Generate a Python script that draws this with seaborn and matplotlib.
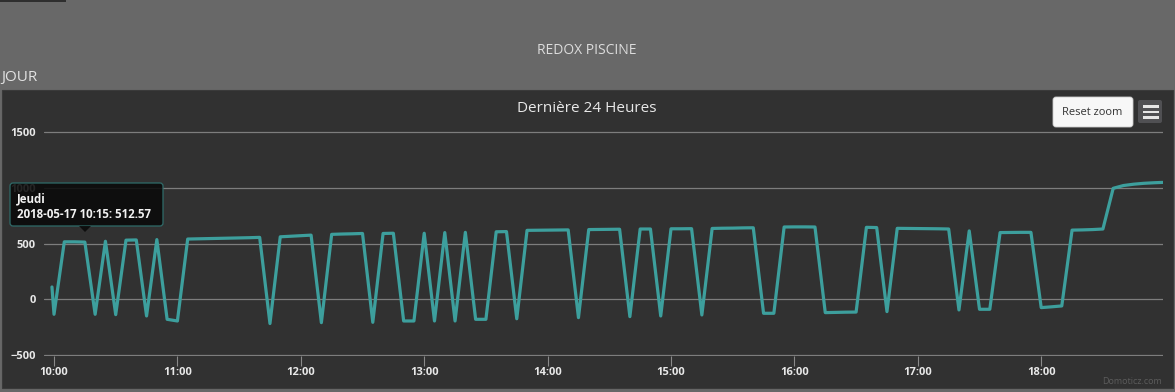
import numpy as np
import pandas as pd
import matplotlib
matplotlib.use("Agg")
import matplotlib.pyplot as plt
import matplotlib.dates as mdates
from matplotlib.patches import Rectangle, FancyBboxPatch, Polygon
from matplotlib.transforms import IdentityTransform
import seaborn as sns

# ---------------- data ----------------
first_time = "2018-05-17 09:59"
step_start = "2018-05-17 10:00"
last_time = "2018-05-17 18:59"
first_value = 110
redox = [
    -135, 515, 515, 512.57, -135, 520, -138, 530, 532, -150,
    535, -180, -195, 540, 542, 544, 546, 548, 550, 552,
    555, -218, 560, 565, 570, 575, -210, 582, 585, 587,
    590, -207, 590, 592, -195, -195, 592, -195, 598, -195,
    600, -180, -180, 605, 607, -175, 618, 619, 620, 621,
    622, -165, 625, 626, 627, 628, -156, 630, 630, -150,
    632, 632, 633, -141, 635, 637, 638, 640, 641, -126,
    -126, 648, 649, 649, 648, -120, -118, -116, -115, 645,
    643, -111, 636, 635, 634, 633, 632, 630, -96, 613,
    -90, -90, 598, 599, 600, 600, -75, -68, -60, 620,
    622, 625, 630, 995, 1020, 1032, 1040, 1045,
]
last_value = 1048
y_ticks = [-500, 0, 500, 1000, 1500]
x_tick_hours = [10, 11, 12, 13, 14, 15, 16, 17, 18]
page_title = "REDOX PISCINE"
section_label = "JOUR"
chart_title = "Dernière 24 Heures"
tooltip_day = "Jeudi"
tooltip_index = 3
reset_label = "Reset zoom"
credit_label = "Domoticz.com"

times = pd.DatetimeIndex([pd.Timestamp(first_time)]).append(
    pd.date_range(step_start, periods=len(redox), freq="5min")).append(
    pd.DatetimeIndex([pd.Timestamp(last_time)]))
values = [first_value] + redox + [last_value]
df = pd.DataFrame({"time": times, "redox": values})

# ---------------- style ----------------
sns.set_theme(style="dark")
plt.rcParams["font.family"] = ["Open Sans", "DejaVu Sans"]
plt.rcParams["hatch.linewidth"] = 1.3

W, H = 1175, 392
fig = plt.figure(figsize=(W / 100, H / 100), dpi=100)
fig.patch.set_facecolor("#707070")


def fx(x):
    return x / W


def fy(y):
    return 1 - y / H


# striped page background
bg = Rectangle((0, 0), 1, 1, transform=fig.transFigure, facecolor="#727272",
               edgecolor="#686868", hatch="\\" * 16, linewidth=0, zorder=-5)
fig.add_artist(bg)
# small dark tab at top-left
fig.add_artist(Rectangle((fx(0), fy(2)), fx(66), 2 / H, transform=fig.transFigure,
                         facecolor="#2e2e2e", linewidth=0, zorder=-4))
# dark chart panel
fig.add_artist(Rectangle((fx(2), fy(388)), fx(1173) - fx(2), (388 - 90) / H,
                         transform=fig.transFigure, facecolor="#313131",
                         edgecolor="#3a3a3a", linewidth=0.8, zorder=-3))

# axes
top_px, bot_px = 130.9, 356.1
ax = fig.add_axes([fx(44), fy(bot_px), (1163 - 44) / W, (bot_px - top_px) / H])
ax.set_facecolor("none")
ax.set_zorder(0)

sns.lineplot(data=df, x="time", y="redox", ax=ax, color="#3d9f9d", linewidth=2.3)
for ln in ax.lines:
    ln.set_solid_joinstyle("round")
    ln.set_solid_capstyle("round")

ax.set_ylim(-510, 1510)
ax.set_xlim(pd.Timestamp("2018-05-17 09:55:08"), pd.Timestamp("2018-05-17 18:59:13"))
ax.set_yticks(y_ticks)
ax.set_xticks([pd.Timestamp(f"2018-05-17 {h:02d}:00") for h in x_tick_hours])
ax.xaxis.set_major_formatter(mdates.DateFormatter("%H:%M"))
ax.set_xlabel("")
ax.set_ylabel("")
for s in ax.spines.values():
    s.set_visible(False)
ax.yaxis.grid(True, color="#7d7d7d", linewidth=0.9)
ax.xaxis.grid(False)
ax.tick_params(axis="y", length=0, pad=6, labelsize=8, labelcolor="#e8e8e8")
ax.tick_params(axis="x", length=7, width=0.8, color="#8a8a8a", pad=0.5,
               labelsize=8, labelcolor="#e8e8e8", bottom=True)
for lab in ax.get_xticklabels() + ax.get_yticklabels():
    lab.set_fontweight("bold")

# texts
fig.text(fx(587), fy(50), page_title, ha="center", va="center",
         color="#dcdcdc", fontsize=10)
fig.text(fx(1), fy(77), section_label, ha="left", va="center",
         color="#e2e2e2", fontsize=11)
fig.text(fx(587), fy(108), chart_title, ha="center", va="center",
         color="#e8e8e8", fontsize=11)
fig.text(fx(1162), fy(381), credit_label, ha="right", va="center",
         color="#5c5c5c", fontsize=6.5)

# reset zoom button
pix = IdentityTransform()
fig.add_artist(FancyBboxPatch((1053, H - 127), 80, 30,
                              boxstyle="round,pad=0,rounding_size=3",
                              transform=pix, facecolor="#f7f7f7",
                              edgecolor="#cccccc", linewidth=0.6, zorder=4))
fig.text(fx(1092.5), fy(112.5), reset_label, ha="center", va="center",
         color="#333333", fontsize=8, zorder=5)
# menu button
fig.add_artist(FancyBboxPatch((1138, H - 123), 24, 23,
                              boxstyle="round,pad=0,rounding_size=2",
                              transform=pix, facecolor="#505053",
                              linewidth=0, zorder=4))
for yb in (106.5, 112, 117.5):
    fig.add_artist(Rectangle((1143, H - yb - 1.4), 16, 2.8, transform=pix,
                             facecolor="#e6e6e6", linewidth=0, zorder=5))

# tooltip (semi-transparent, lies over the 1000 label as in the reference)
tt_time = times[tooltip_index + 1]
tt_val = values[tooltip_index + 1]
fig.add_artist(FancyBboxPatch((10, H - 226), 153, 43,
                              boxstyle="round,pad=0,rounding_size=3",
                              transform=pix, facecolor=(0.04, 0.04, 0.04, 0.88),
                              edgecolor="#2f6b69", linewidth=0.9, zorder=6))
fig.add_artist(Polygon([(79, H - 226), (91, H - 226), (85, H - 232)], closed=True,
                       transform=pix, facecolor=(0.04, 0.04, 0.04, 0.88),
                       edgecolor="none", zorder=6))
fig.text(fx(17), fy(199), tooltip_day, ha="left", va="center",
         color="#f2f2f2", fontsize=8.3, fontweight="bold", zorder=7)
fig.text(fx(17), fy(214), f"{tt_time:%Y-%m-%d %H:%M}: {tt_val}", ha="left",
         va="center", color="#f2f2f2", fontsize=8.3, fontweight="bold", zorder=7)

fig.savefig("out.png", dpi=100, facecolor=fig.get_facecolor())
